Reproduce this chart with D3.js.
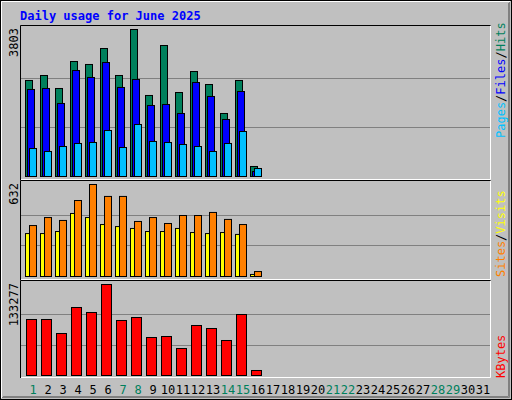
<!DOCTYPE html>
<html><head><meta charset="utf-8">
<script src="https://cdn.jsdelivr.net/npm/d3@7"></script>
<style>body{margin:0;background:#fff}svg{display:block}</style></head>
<body><svg id="c" width="512" height="400"></svg>
<script>
const days = d3.range(1, 32);
const weekendDays = [1,7,8,14,15,21,22,28,29];
const hits  = [2484,2613,2277,2975,2898,3311,2613,3803,2096,3389,2173,2716,2380,1630,2484,259];
const files = [2251,2277,1889,2742,2561,2949,2303,2510,1837,1863,1630,2432,2070,1475,2199,129];
const pages = [724,647,776,854,880,1190,750,1345,906,880,828,776,647,854,1164,207];
const sites = [350,405,385,522,632,550,550,378,405,364,419,419,440,392,357,34];
const visits= [295,295,309,433,405,357,343,330,309,309,330,302,295,302,289,14];
const kbytes= [82018,82018,61513,99593,92270,133277,80553,84947,55655,57119,39544,73230,68836,51261,89341,7323];
const maxLabels = ["3803","632","133277"];

const svg = d3.select("#c");
const F = "'DejaVu Sans Mono', monospace";
svg.append("rect").attr("x",0).attr("y",0).attr("width",512).attr("height",400).attr("fill","#c0c0c0");
svg.append("rect").attr("x",0.5).attr("y",0.5).attr("width",511).attr("height",399).attr("fill","none").attr("stroke","#000");
svg.append("path").attr("d","M1.5,398V1.5H510").attr("stroke","#fff").attr("fill","none");
svg.append("path").attr("d","M2,397.5H509.5V2").attr("stroke","#808080").attr("fill","none");
svg.append("path").attr("d","M3,396.5H508.5V3").attr("stroke","#808080").attr("fill","none");

svg.append("text").attr("x",20).attr("y",20).attr("fill","#0000ff").attr("font-family",F)
  .attr("font-weight","bold").attr("font-size",12).text("Daily usage for June 2025");

const x = d3.scaleBand().domain(days).range([25,490]).paddingInner(0).paddingOuter(0);
// each day slot 15px starting at 25
const panels = [
  {top:25, bot:180, base:176, max:3803},
  {top:180, bot:280, base:276, max:632},
  {top:280, bot:378, base:375, max:133277}
];
panels.forEach((p,i)=>{
  p.y = d3.scaleLinear().domain([0,p.max]).range([p.base, p.base - (p.base-p.top-4)]);
  svg.append("path").attr("d",`M20.5,${p.bot}V${p.top+0.5}H490.5`).attr("stroke","#000").attr("fill","none");
  svg.append("path").attr("d",`M21,${p.bot-0.5}H490.5V${p.top+1}`).attr("stroke","#fff").attr("fill","none");
  [1/3,2/3].forEach(f=>{
    const yy = Math.round(p.y(p.max*f))+0.5;
    svg.append("line").attr("x1",21).attr("x2",490).attr("y1",yy).attr("y2",yy).attr("stroke","#808080");
  });
  svg.append("text").attr("transform",`translate(18,${p.top+3}) rotate(-90)`).attr("text-anchor","end")
    .attr("font-family",F).attr("font-size",12).attr("fill","#000").text(maxLabels[i]);
});

function bars(data, p, dx, w, color){
  svg.append("g").selectAll("rect").data(data).join("rect")
    .attr("x",(d,i)=>x(days[i])+dx+0.5).attr("width",w)
    .attr("y",d=>p.y(d)+0.5).attr("height",d=>p.y(0)-p.y(d))
    .attr("fill",color).attr("stroke","#000");
}
bars(hits, panels[0], 0, 7, "#00805c");
bars(files, panels[0], 2, 7, "#0000ff");
bars(pages, panels[0], 4, 7, "#00c0ff");
bars(visits, panels[1], 0, 4, "#ffff00");
bars(sites, panels[1], 4, 7, "#ff8000");
bars(kbytes, panels[2], 1, 10, "#ff0000");

svg.append("g").selectAll("text").data(days).join("text")
  .attr("x",d=>x(d)+8).attr("y",394).attr("text-anchor","middle")
  .attr("font-family",F).attr("font-size",12)
  .attr("fill",d=>weekendDays.includes(d)?"#00805c":"#000").text(d=>d);

function legend(parts, yEnd){
  const t = svg.append("text").attr("transform",`translate(505,${yEnd}) rotate(-90)`)
    .attr("font-family",F).attr("font-size",12);
  parts.forEach(([s,c])=>t.append("tspan").attr("fill",c).text(s));
}
legend([["Pages","#00c0ff"],["/","#000"],["Files","#0000ff"],["/","#000"],["Hits","#00805c"]],138);
legend([["Sites","#ff8000"],["/","#000"],["Visits","#ffff00"]],277);
legend([["KBytes","#ff0000"]],378);
</script></body></html>
